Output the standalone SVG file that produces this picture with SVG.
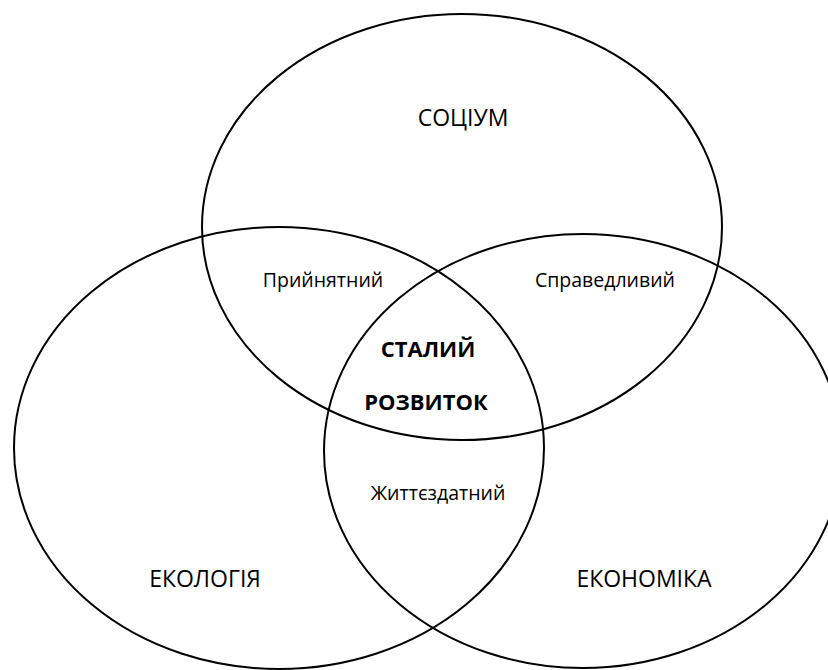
<svg xmlns="http://www.w3.org/2000/svg" width="828" height="670" viewBox="0 0 828 670">
<style>
.c{fill:none;stroke:#000;stroke-width:2}
text{font-family:"Open Sans","Liberation Sans",sans-serif;fill:#000;text-anchor:middle}
.l{font-size:23px}
.s{font-size:19.5px}
.b{font-size:22px;font-weight:bold}
</style>
<rect width="828" height="670" fill="#fff"/>
<g id="socium"><ellipse class="c" cx="462" cy="227" rx="260" ry="213"/><text class="l" x="463" y="126">СОЦІУМ</text></g>
<g id="ecology"><ellipse class="c" cx="279" cy="448" rx="265" ry="221"/><text class="l" x="205" y="587">ЕКОЛОГІЯ</text></g>
<g id="economy"><ellipse class="c" cx="583" cy="451" rx="259" ry="217"/><text class="l" x="644" y="587">ЕКОНОМІКА</text></g>
<g id="acceptable"><text class="s" x="323" y="287">Прийнятний</text></g>
<g id="fair"><text class="s" x="605" y="287">Справедливий</text></g>
<g id="viable"><text class="s" x="438" y="500">Життєздатний</text></g>
<g id="sustainable"><text class="b" x="428" y="357">СТАЛИЙ</text><text class="b" x="426" y="410">РОЗВИТОК</text></g>
<g id="connectors"/>
</svg>
